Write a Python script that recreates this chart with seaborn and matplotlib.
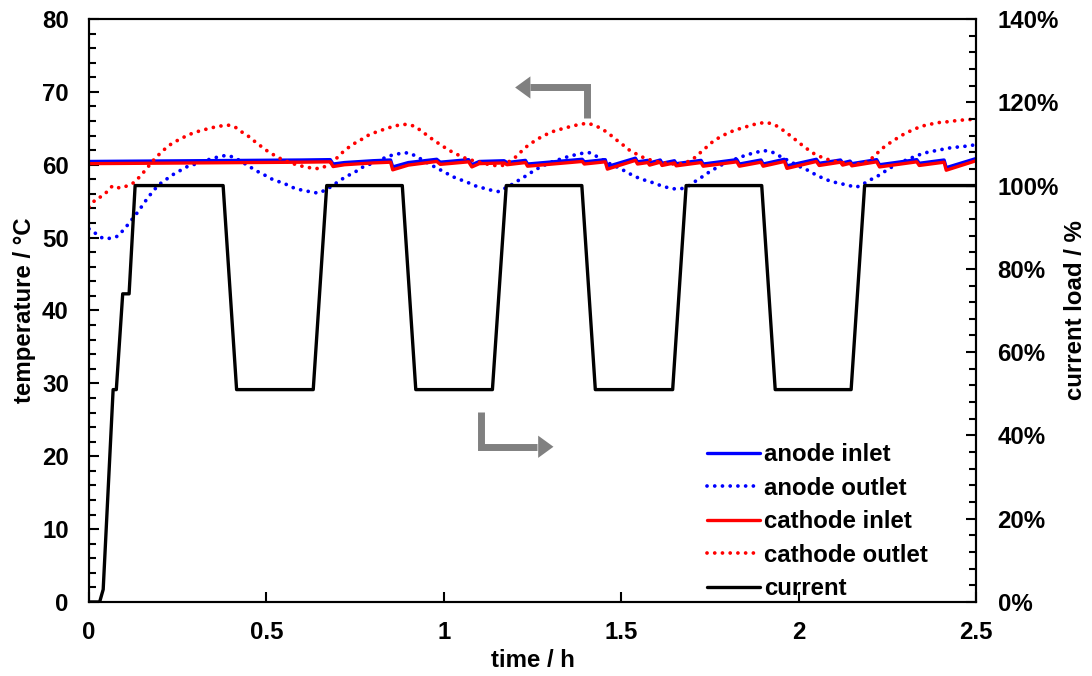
import matplotlib
matplotlib.use("Agg")
import matplotlib.pyplot as plt
from matplotlib.ticker import MultipleLocator, FuncFormatter
import seaborn as sns

# ---- measured data -------------------------------------------------------
# time in h, temperatures in degC, current load in %

inlet_t = [0.00, 0.30, 0.60, 0.680, 0.688, 0.72, 0.80, 0.850, 0.856, 0.90,
           0.98, 0.990, 1.07, 1.079, 1.10, 1.17, 1.178, 1.23, 1.236, 1.39,
           1.396, 1.455, 1.461, 1.54, 1.546, 1.575, 1.580, 1.61, 1.615, 1.650,
           1.655, 1.725, 1.731, 1.826, 1.833, 1.894, 1.900, 1.960, 1.967, 2.050,
           2.058, 2.118, 2.124, 2.145, 2.150, 2.220, 2.228, 2.333, 2.340, 2.410,
           2.416, 2.500]
anode_inlet = [60.45, 60.55, 60.65, 60.7, 60.1, 60.3, 60.55, 60.65, 59.7, 60.3,
               60.75, 60.35, 60.7, 60.0, 60.45, 60.55, 60.3, 60.6, 60.1, 60.75,
               60.4, 60.7, 59.75, 60.9, 60.4, 60.6, 60.25, 60.65, 60.2, 60.55,
               60.15, 60.6, 60.1, 60.7, 60.1, 60.65, 60.1, 60.75, 59.85, 60.75,
               60.2, 60.65, 60.25, 60.5, 60.15, 60.7, 60.0, 60.7, 60.2, 60.65,
               59.6, 60.85]
cathode_inlet = [60.15, 60.25, 60.35, 60.4, 59.75, 60.0, 60.25, 60.35, 59.3, 59.95,
                 60.45, 60.05, 60.4, 59.7, 60.15, 60.25, 60.0, 60.3, 59.8, 60.45,
                 60.1, 60.4, 59.4, 60.6, 60.1, 60.3, 59.95, 60.35, 59.9, 60.25,
                 59.85, 60.3, 59.8, 60.4, 59.8, 60.35, 59.8, 60.45, 59.5, 60.45,
                 59.9, 60.35, 59.95, 60.2, 59.85, 60.4, 59.7, 60.4, 59.9, 60.35,
                 59.25, 60.55]

anode_outlet_t = [0.000, 0.005, 0.021, 0.039, 0.058, 0.082, 0.110, 0.139, 0.166, 0.195,
                  0.235, 0.275, 0.319, 0.343, 0.366, 0.388, 0.410, 0.451, 0.470, 0.491,
                  0.512, 0.534, 0.556, 0.578, 0.601, 0.623, 0.646, 0.670, 0.706, 0.725,
                  0.747, 0.768, 0.808, 0.831, 0.853, 0.877, 0.900, 0.921, 0.961, 0.982,
                  1.002, 1.023, 1.044, 1.066, 1.089, 1.111, 1.134, 1.156, 1.177, 1.196,
                  1.215, 1.236, 1.257, 1.278, 1.299, 1.321, 1.342, 1.365, 1.388, 1.410,
                  1.433, 1.473, 1.495, 1.515, 1.536, 1.558, 1.580, 1.602, 1.624, 1.647,
                  1.669, 1.690, 1.711, 1.730, 1.748, 1.769, 1.791, 1.833, 1.857, 1.880,
                  1.902, 1.925, 1.946, 2.007, 2.028, 2.049, 2.071, 2.092, 2.115, 2.138,
                  2.162, 2.180, 2.201, 2.223, 2.242, 2.263, 2.303, 2.326, 2.350, 2.371,
                  2.395, 2.417, 2.442, 2.464, 2.500]
anode_outlet = [51.2, 51.0, 50.5, 49.9, 49.9, 50.2, 51.8, 53.6, 55.5, 57.2,
                58.6, 59.7, 60.4, 60.8, 61.1, 61.3, 61.0, 59.8, 59.2, 58.7,
                58.1, 57.7, 57.3, 56.8, 56.5, 56.3, 56.1, 56.6, 57.8, 58.4,
                58.9, 59.6, 60.4, 60.9, 61.3, 61.55, 61.65, 61.2, 60.05, 59.5,
                59.0, 58.4, 58.0, 57.6, 57.1, 56.8, 56.5, 56.3, 56.9, 57.4,
                58.0, 58.6, 59.3, 59.8, 60.3, 60.65, 61.0, 61.3, 61.55, 61.65,
                61.1, 60.0, 59.55, 59.0, 58.45, 58.0, 57.7, 57.3, 56.95, 56.7,
                56.7, 57.1, 57.8, 58.4, 59.0, 59.6, 60.2, 61.0, 61.4, 61.7,
                61.95, 61.75, 61.2, 59.65, 59.2, 58.6, 58.1, 57.7, 57.45, 57.2,
                56.9, 57.3, 57.9, 58.45, 59.05, 59.7, 60.65, 61.1, 61.55, 61.8,
                62.0, 62.25, 62.4, 62.5, 62.75]

cathode_outlet_t = [0.000, 0.005, 0.019, 0.038, 0.054, 0.066, 0.087, 0.108, 0.129, 0.158,
                    0.188, 0.204, 0.221, 0.240, 0.260, 0.280, 0.302, 0.324, 0.348, 0.369,
                    0.391, 0.411, 0.432, 0.451, 0.467, 0.487, 0.505, 0.526, 0.547, 0.567,
                    0.590, 0.612, 0.635, 0.658, 0.693, 0.711, 0.731, 0.749, 0.769, 0.789,
                    0.810, 0.831, 0.853, 0.874, 0.895, 0.917, 0.938, 0.955, 0.975, 0.994,
                    1.014, 1.034, 1.055, 1.076, 1.097, 1.120, 1.144, 1.165, 1.183, 1.201,
                    1.220, 1.236, 1.254, 1.274, 1.295, 1.315, 1.339, 1.361, 1.384, 1.406,
                    1.428, 1.448, 1.467, 1.484, 1.503, 1.520, 1.540, 1.562, 1.583, 1.606,
                    1.630, 1.655, 1.675, 1.692, 1.711, 1.728, 1.745, 1.762, 1.781, 1.802,
                    1.824, 1.845, 1.868, 1.889, 1.911, 1.934, 1.953, 1.971, 1.988, 2.007,
                    2.026, 2.044, 2.066, 2.087, 2.110, 2.135, 2.160, 2.180, 2.197, 2.216,
                    2.232, 2.251, 2.270, 2.289, 2.309, 2.329, 2.352, 2.375, 2.397, 2.420,
                    2.444, 2.465, 2.500]
cathode_outlet = [54.2, 54.4, 55.3, 55.7, 56.45, 57.1, 56.8, 57.1, 57.6, 59.2,
                  61.0, 61.7, 62.5, 63.1, 63.6, 64.1, 64.5, 64.8, 65.1, 65.3,
                  65.45, 65.2, 64.45, 63.85, 63.2, 62.45, 61.8, 61.2, 60.65, 60.3,
                  59.9, 59.7, 59.45, 59.55, 60.65, 61.55, 62.35, 62.95, 63.5, 64.1,
                  64.5, 64.85, 65.2, 65.45, 65.55, 65.3, 64.6, 63.95, 63.25, 62.65,
                  62.0, 61.5, 61.0, 60.65, 60.4, 60.1, 59.9, 59.9, 60.4, 61.0,
                  61.9, 62.6, 63.2, 63.8, 64.3, 64.7, 65.0, 65.3, 65.55, 65.7,
                  65.35, 64.85, 64.2, 63.5, 62.8, 62.1, 61.55, 61.0, 60.65, 60.4,
                  60.2, 60.05, 60.2, 60.5, 61.1, 61.9, 62.6, 63.35, 63.85, 64.4,
                  64.8, 65.1, 65.45, 65.7, 65.8, 65.45, 64.85, 64.2, 63.55, 62.8,
                  62.1, 61.5, 61.0, 60.65, 60.4, 60.2, 60.1, 60.2, 60.5, 61.3,
                  62.1, 62.8, 63.4, 64.0, 64.5, 64.95, 65.35, 65.6, 65.8, 65.9,
                  66.05, 66.15, 66.25]

current_t = [0.000, 0.030, 0.040, 0.068, 0.077, 0.095, 0.113, 0.130, 0.378, 0.416,
             0.632, 0.670, 0.883, 0.921, 1.137, 1.176, 1.389, 1.427, 1.645, 1.683,
             1.896, 1.934, 2.148, 2.186, 2.500]
current_load = [0, 0, 3, 51, 51, 74, 74, 100, 100, 51,
                51, 100, 100, 51, 51, 100, 100, 51, 51, 100,
                100, 51, 51, 100, 100]

# ---- styling -------------------------------------------------------------
sns.set_theme(style="ticks")
plt.rcParams["font.family"] = ["Liberation Sans", "DejaVu Sans"]
plt.rcParams["font.weight"] = "bold"
plt.rcParams["axes.labelweight"] = "bold"
plt.rcParams["text.color"] = "black"
plt.rcParams["axes.labelcolor"] = "black"
plt.rcParams["legend.labelcolor"] = "black"

FS = 17.3
BLUE = "#0000FF"
RED = "#FF0000"
GREY = "#808080"
LW = 2.4
DOT_LW = 2.7
DOTS = (0, (0.01, 2.05))

fig = plt.figure(figsize=(10.92, 6.76), dpi=100)
ax = fig.add_axes([0.0815, 0.1095, 0.8123, 0.8624])
ax2 = ax.twinx()

common = dict(estimator=None, sort=False, legend=False)
sns.lineplot(x=inlet_t, y=anode_inlet, ax=ax, color=BLUE, lw=LW,
             label="anode inlet", **common)
sns.lineplot(x=anode_outlet_t, y=anode_outlet, ax=ax, color=BLUE, lw=DOT_LW,
             linestyle=DOTS, dash_capstyle="round", label="anode outlet", **common)
sns.lineplot(x=inlet_t, y=cathode_inlet, ax=ax, color=RED, lw=LW,
             label="cathode inlet", **common)
sns.lineplot(x=cathode_outlet_t, y=cathode_outlet, ax=ax, color=RED, lw=DOT_LW,
             linestyle=DOTS, dash_capstyle="round", label="cathode outlet", **common)
sns.lineplot(x=current_t, y=current_load, ax=ax2, color="black", lw=2.4,
             label="current", **common)

# ---- axes ----------------------------------------------------------------
ax.set_xlim(0, 2.5)
ax.set_ylim(0, 80)
ax2.set_ylim(0, 140)

ax.xaxis.set_major_locator(MultipleLocator(0.5))
ax.xaxis.set_major_formatter(FuncFormatter(lambda v, p: f"{v:g}"))
ax.yaxis.set_major_locator(MultipleLocator(10))
ax.yaxis.set_minor_locator(MultipleLocator(2))
ax2.yaxis.set_major_locator(MultipleLocator(20))
ax2.yaxis.set_minor_locator(MultipleLocator(4))
ax2.yaxis.set_major_formatter(FuncFormatter(lambda v, p: f"{v:.0f}%"))

ax.tick_params(axis="both", which="both", direction="in", color="black",
               width=1.5, labelsize=FS, labelcolor="black", top=False, right=False)
ax.tick_params(axis="both", which="major", length=7)
ax.tick_params(axis="y", which="minor", length=5)
ax.tick_params(axis="y", which="major", pad=14.5)
ax.tick_params(axis="x", which="major", pad=13.5)
ax2.tick_params(axis="y", which="both", direction="in", color="black",
                width=1.5, labelsize=FS, labelcolor="black", pad=15.5)
ax2.tick_params(axis="y", which="major", length=7)
ax2.tick_params(axis="y", which="minor", length=5)

for a in (ax, ax2):
    for s in a.spines.values():
        s.set_color("black")
        s.set_linewidth(1.5)

ax.set_xlabel("time / h", fontsize=FS, fontweight="bold", labelpad=4, color="black")
ax.set_ylabel("temperature / °C", fontsize=FS, fontweight="bold", labelpad=4.5,
              color="black")
ax2.set_ylabel("current load / %", fontsize=FS, fontweight="bold", labelpad=4,
               color="black")

# ---- axis-assignment arrows ----------------------------------------------
def bent_arrow(x_corner, y_start, y_bend, x_head, x_tip):
    ax.plot([x_corner, x_corner, x_head], [y_start, y_bend, y_bend],
            color=GREY, lw=5, solid_joinstyle="miter", solid_capstyle="butt",
            zorder=5)
    ax.annotate("", xy=(x_tip, y_bend), xytext=(x_head, y_bend),
                arrowprops=dict(arrowstyle="-|>,head_length=11,head_width=8",
                                mutation_scale=1, color=GREY, lw=0,
                                shrinkA=0, shrinkB=0), zorder=5)

bent_arrow(1.403, 66.4, 70.6, 1.243, 1.201)   # points to the temperature axis
bent_arrow(1.105, 26.1, 21.3, 1.262, 1.309)   # points to the current axis

# ---- legend ----------------------------------------------------------------
h1, l1 = ax.get_legend_handles_labels()
h2, l2 = ax2.get_legend_handles_labels()
leg = ax2.legend(h1 + h2, l1 + l2, loc="upper left", bbox_to_anchor=(0.6964, 0.2725),
                 frameon=False, prop={"size": FS, "weight": "bold"},
                 handlelength=2.2, handletextpad=0.2, labelspacing=0.44,
                 borderpad=0, borderaxespad=0, labelcolor="black")

fig.savefig("out.png", dpi=100)
